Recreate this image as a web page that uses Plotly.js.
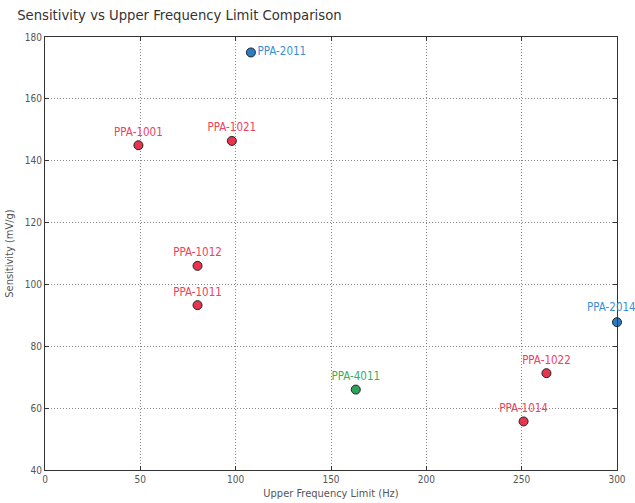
<!DOCTYPE html>
<html><head><meta charset="utf-8">
<script src="https://cdn.plot.ly/plotly-3.0.1.min.js"></script>
<style>body{margin:0;}#chart{width:635px;height:503px;}
#chart text{font-stretch:condensed !important;}</style>
</head><body><div id="chart"></div>
<script>
const names = ["PPA-1001","PPA-1011","PPA-1012","PPA-1014","PPA-1021","PPA-1022","PPA-2011","PPA-2014","PPA-4011"];
const freqLimit = [49, 80, 80, 251, 98, 263, 108, 300, 163];
const sensitivity = [145, 93.3, 106, 55.7, 146.4, 71.3, 175, 87.8, 66];
const group = ["red","red","red","red","red","red","blue","blue","green"];
const xTicks = [0,50,100,150,200,250,300];
const yTicks = [40,60,80,100,120,140,160,180];

const markerColors = {red:"#e8344f", blue:"#2a7cc4", green:"#2ca25a"};
const textColors = {red:"#f0405c", blue:"#3a8fd2", green:"#33b066"};
const FONT = "'DejaVu Sans Condensed','DejaVu Sans',sans-serif";
const LABEL_SIZE = 11.5;
const EDGE_LABEL = "PPA-2014";

const traces = ["red","blue","green"].map(g => {
  const idx = names.map((n,i)=>i).filter(i=>group[i]===g);
  return {
    type:"scatter", mode:"markers+text",
    x: idx.map(i=>freqLimit[i]),
    y: idx.map(i=>sensitivity[i]),
    text: idx.map(i=>names[i]===EDGE_LABEL ? "" : names[i]),
    textposition: idx.map(i=>names[i]==="PPA-2011" ? "middle right" : "top center"),
    textfont:{family:FONT, size:LABEL_SIZE, color:textColors[g]},
    marker:{size:9, color:markerColors[g], line:{color:"#222", width:1}},
    cliponaxis:false, hoverinfo:"skip", showlegend:false
  };
});

const ei = names.indexOf(EDGE_LABEL);
const annotations = [{
  x: freqLimit[ei], y: sensitivity[ei], xref:"x", yref:"y",
  text: names[ei], showarrow:false, xanchor:"center", yanchor:"bottom",
  xshift:-6, yshift:6,
  font:{family:FONT, size:LABEL_SIZE, color:textColors[group[ei]]}
}];

const axisCommon = {
  showline:true, linecolor:"#333", linewidth:1, mirror:"ticks",
  ticks:"inside", ticklen:4, tickcolor:"#333",
  showgrid:true, gridcolor:"#888", griddash:"1px,2px", gridwidth:1,
  zeroline:false, tickfont:{family:FONT, size:10, color:"#555"},
};

const layout = {
  width:635, height:503,
  margin:{l:45, r:18, t:37, b:33},
  paper_bgcolor:"#fff", plot_bgcolor:"#fff",
  title:{text:"Sensitivity vs Upper Frequency Limit Comparison", x:0.027, xanchor:"left", y:0.98, yanchor:"top",
         font:{family:FONT, size:14.7, color:"#333"}},
  xaxis:Object.assign({}, axisCommon, {range:[0,300], tickvals:xTicks, ticktext:xTicks.map(String),
        title:{text:"Upper Frequency Limit (Hz)", font:{family:FONT, size:11, color:"#555"}, standoff:5}}),
  yaxis:Object.assign({}, axisCommon, {range:[40,180], tickvals:yTicks, ticktext:yTicks.map(String),
        title:{text:"Sensitivity (mV/g)", font:{family:FONT, size:11, color:"#555"}, standoff:8}}),
  annotations: annotations,
  font:{family:FONT}
};

Plotly.newPlot("chart", traces, layout, {displayModeBar:false, staticPlot:true});
</script></body></html>
